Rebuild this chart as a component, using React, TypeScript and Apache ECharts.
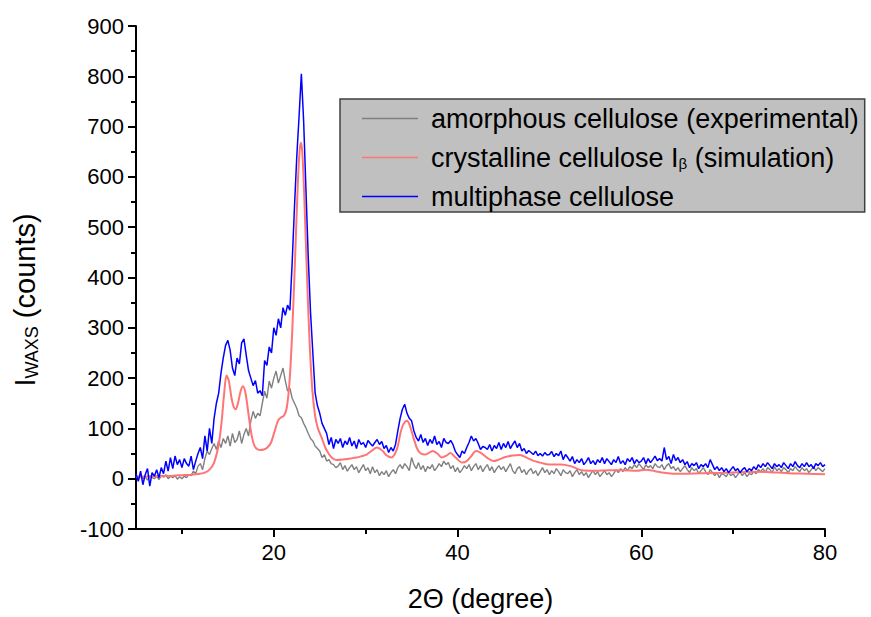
import React, { useEffect, useRef } from "react";
import * as echarts from "echarts";

// Sampling grid of the measured patterns (degrees 2Θ)
const THETA_START = 5;
const THETA_STEP = 0.25;

// amorphous cellulose (experimental), one value per 0.25° from 5° to 80°
const amorphousCounts = [
  5, -2, 8, 0, 4, -3, 6, 2, 0, 5, -2, 6, 3, 8, 0, 5, 2, 6, -1, 4,
  0, 5, 2, 8, 6, 15, 10, 25, 30, 18, 40, 55, 48, 60, 70, 58, 75, 62, 80, 70,
  85, 65, 90, 72, 78, 95, 70, 88, 100, 85, 115, 134, 120, 130, 125, 150, 174, 160, 194, 180,
  200, 214, 190, 205, 220, 195, 174, 180, 160, 150, 140, 125, 121, 110, 101, 90, 80, 75, 65, 60,
  55, 42, 48, 35, 38, 30, 28, 22, 25, 32, 18, 26, 15, 22, 28, 18, 24, 12, 20, 28,
  16, 22, 10, 24, 12, 18, 6, 14, 8, 16, 4, 12, 18, 10, 22, 28, 20, 30, 24, 16,
  42, 28, 20, 32, 18, 26, 14, 24, 20, 28, 16, 22, 30, 24, 35, 28, 32, 20, 26, 14,
  22, 12, 18, 26, 20, 28, 16, 24, 30, 18, 26, 14, 22, 28, 16, 24, 12, 20, 26, 18,
  24, 14, 22, 30, 16, 10, 20, 24, 12, 18, 8, 16, 20, 10, 16, 6, 14, 22, 12, 18,
  8, 16, 10, 20, 14, 6, 18, 12, 10, 16, 4, 12, 18, 8, 14, 6, 12, 2, 10, 16,
  8, 14, 4, 10, 16, 8, 12, 4, 10, 18, 12, 20, 14, 22, 16, 24, 20, 28, 22, 30,
  24, 18, 28, 22, 26, 20, 30, 24, 22, 28, 18, 26, 30, 20, 24, 16, 22, 14, 20, 26,
  18, 12, 22, 16, 20, 10, 16, 22, 14, 8, 18, 12, 6, 12, 2, 10, 8, 4, 12, 6,
  10, 2, 8, 14, 6, 12, 4, 10, 8, 14, 10, 18, 14, 20, 12, 22, 18, 12, 24, 16,
  20, 14, 22, 18, 12, 20, 16, 24, 18, 14, 22, 16, 20, 12, 18, 24, 16, 22, 18, 14,
  20,
];

// multiphase cellulose, one value per 0.25° from 5° to 80°
const multiphaseCounts = [
  10, -5, 15, -12, 8, 20, -15, 12, 5, 18, 2, 22, 10, 35, 15, 42, 20, 45, 28, 38,
  22, 40, 30, 25, 45, 18, 35, 50, 62, 40, 85, 55, 100, 70, 120, 150, 170, 210, 240, 265,
  275, 255, 220, 205, 240, 228, 270, 278, 245, 215, 200, 185, 195, 170, 175, 165, 235, 225, 262, 250,
  300, 285, 318, 300, 340, 325, 345, 335, 430, 540, 640, 720, 805, 710, 575, 440, 330, 250, 170, 145,
  130, 110, 100, 90, 68, 82, 60, 78, 70, 80, 62, 75, 68, 82, 65, 75, 60, 78, 68, 72,
  62, 76, 70, 65, 72, 78, 68, 74, 60, 66, 52, 62, 55, 68, 95, 120, 138, 148, 130, 120,
  115, 95, 82, 75, 88, 72, 80, 66, 78, 70, 85, 68, 74, 62, 80, 72, 70, 76, 68, 55,
  48, 42, 55, 50, 62, 72, 85, 75, 80, 70, 58, 64, 62, 58, 68, 55, 66, 60, 72, 58,
  70, 62, 74, 60, 68, 75, 62, 70, 55, 60, 50, 56, 52, 48, 55, 46, 50, 45, 52, 47,
  48, 54, 44, 50, 46, 55, 38, 48, 42, 35, 44, 30, 38, 32, 40, 28, 34, 42, 30, 36,
  28, 38, 32, 42, 30, 40, 34, 28, 38, 32, 44, 30, 36, 28, 40, 34, 42, 30, 38, 32,
  35, 42, 30, 40, 32, 38, 45, 36, 40, 35, 62, 38, 44, 30, 48, 36, 42, 32, 38, 28,
  34, 22, 30, 26, 32, 20, 28, 24, 30, 22, 38, 28, 18, 24, 16, 22, 14, 20, 12, 18,
  24, 16, 20, 12, 18, 22, 14, 20, 16, 24, 18, 28, 22, 30, 24, 32, 26, 20, 30, 24,
  28, 22, 32, 26, 20, 30, 24, 34, 26, 22, 30, 24, 32, 24, 28, 20, 30, 26, 32, 24,
  28,
];

// crystalline cellulose Iβ (simulation): smooth curve, non-uniform sampling
const crystallineTheta = [
  5, 7, 9, 10, 11, 12, 12.5, 13, 13.5, 14, 14.3, 14.6, 14.85, 15.1, 15.4, 15.65, 15.85, 16.1, 16.4, 16.65,
  16.9, 17.2, 17.5, 17.8, 18.1, 18.5, 18.9, 19.3, 19.7, 20.1, 20.45, 20.8, 21.1, 21.4, 21.7, 22.0, 22.3, 22.6, 22.8, 22.95,
  23.1, 23.3, 23.6, 23.9, 24.2, 24.5, 24.8, 25.2, 25.6, 25.9, 26.3, 26.8, 27.5, 28.3, 29.0, 29.6, 30.1, 30.7, 31.2, 31.8,
  32.3, 32.8, 33.2, 33.5, 33.8, 34.1, 34.5, 34.8, 35.2, 35.6, 36.0, 36.5, 37.3, 37.8, 38.3, 38.8, 39.2, 39.8, 40.5, 41.0,
  41.5, 42.0, 42.5, 43.2, 43.9, 44.5, 45.2, 46.0, 46.8, 47.5, 48.2, 49.0, 50.0, 51.2, 52.3, 53.0, 53.5, 55.0, 56.5, 58.0,
  59.5, 60.5, 61.5, 62.5, 63.5, 65.0, 67.0, 69.0, 70.8, 72.5, 74.0, 76.0, 78.0, 80,
];
const crystallineCounts = [
  4, 5, 6, 7, 8, 10, 12, 18, 32, 68, 110, 170, 205, 195, 160, 142, 138, 150, 175, 184,
  172, 135, 95, 70, 60, 57, 58, 62, 72, 95, 115, 122, 125, 140, 190, 290, 430, 580, 650, 668,
  650, 570, 410, 270, 175, 125, 100, 82, 62, 52, 42, 37, 38, 40, 42, 45, 48, 56, 62, 56,
  46, 42, 50, 65, 92, 108, 115, 106, 82, 60, 50, 48, 55, 50, 42, 46, 51, 42, 32, 35,
  45, 55, 52, 42, 35, 38, 43, 46, 47, 42, 36, 32, 28, 28, 25, 20, 17, 16, 17, 17,
  16, 18, 15, 12, 10, 10, 11, 12, 13, 14, 13, 11, 10, 9,
];

const seriesNames = [
  "amorphous cellulose (experimental)",
  "crystalline cellulose Iβ (simulation)",
  "multiphase cellulose",
];

const xMajorTicks = [20, 40, 60, 80];
const xMinorTicks = [10, 30, 50, 70];

const FONT = "'Liberation Sans', Arial, sans-serif";

export default function App() {
  const ref = useRef<HTMLDivElement>(null);

  useEffect(() => {
    if (!ref.current) return;
    const chart = echarts.init(ref.current, undefined, { renderer: "svg" });

    const grid = (vals: number[]) =>
      vals.map((v, i) => [THETA_START + i * THETA_STEP, v]);
    const crystalline = crystallineTheta.map((t, i) => [t, crystallineCounts[i]]);

    const legendRich = {
      sub: { fontSize: 15, fontFamily: FONT, color: "#000", verticalAlign: "bottom", lineHeight: 14 },
    };

    chart.setOption({
      animation: false,
      backgroundColor: "#ffffff",
      grid: { left: 136, width: 689, top: 26, height: 507, containLabel: false },
      xAxis: [
        {
          type: "value",
          min: 5,
          max: 80,
          position: "bottom",
          name: "2Θ (degree)",
          nameLocation: "middle",
          nameGap: 56,
          nameTextStyle: { fontSize: 27, color: "#000", fontFamily: FONT },
          axisLine: { show: true, onZero: false, lineStyle: { color: "#000", width: 2 } },
          axisTick: { show: true, customValues: xMajorTicks, length: 8, lineStyle: { color: "#000", width: 2 } },
          axisLabel: { show: true, customValues: xMajorTicks, fontSize: 22, color: "#000", fontFamily: FONT, margin: 12 },
          splitLine: { show: false },
        },
        {
          type: "value",
          min: 5,
          max: 80,
          position: "bottom",
          offset: 0,
          axisLine: { show: false, onZero: false },
          axisTick: { show: true, customValues: xMinorTicks, length: 5, lineStyle: { color: "#000", width: 2 } },
          axisLabel: { show: false },
          splitLine: { show: false },
        },
      ],
      yAxis: {
        type: "value",
        min: -100,
        max: 900,
        interval: 100,
        axisLine: { show: true, onZero: false, lineStyle: { color: "#000", width: 2 } },
        axisTick: { show: true, length: 8, lineStyle: { color: "#000", width: 2 } },
        minorTick: { show: true, splitNumber: 2, length: 5, lineStyle: { color: "#000", width: 2 } },
        axisLabel: { fontSize: 22, color: "#000", fontFamily: FONT, margin: 12 },
        splitLine: { show: false },
        minorSplitLine: { show: false },
      },
      legend: {
        orient: "vertical",
        left: 340,
        top: 99,
        padding: [6, 6, 2, 22],
        itemGap: 12,
        itemWidth: 56,
        itemHeight: 1.5,
        backgroundColor: "#c0c0c0",
        borderColor: "#404040",
        borderWidth: 1.5,
        borderRadius: 0,
        selectedMode: false,
        data: seriesNames.map((n) => ({ name: n, icon: "rect" })),
        formatter: (name: string) =>
          name === seriesNames[1] ? "crystalline cellulose I{sub|β} (simulation)" : name,
        textStyle: {
          fontSize: 27,
          color: "#000",
          fontFamily: FONT,
          lineHeight: 26,
          padding: [0, 0, 0, 8],
          rich: legendRich,
        },
      },
      graphic: [
        {
          type: "text",
          x: 25,
          y: 300,
          rotation: Math.PI / 2,
          style: {
            text: "{a|I}{b|WAXS}{a| (counts)}",
            align: "center",
            verticalAlign: "middle",
            fill: "#000",
            rich: {
              a: { fontSize: 29, fontFamily: FONT, color: "#000", lineHeight: 32 },
              b: { fontSize: 18, fontFamily: FONT, color: "#000", verticalAlign: "bottom", lineHeight: 16 },
            },
          },
        },
      ],
      series: [
        {
          name: seriesNames[0],
          type: "line",
          data: grid(amorphousCounts),
          symbol: "none",
          color: "#808080",
          lineStyle: { color: "#808080", width: 1.4 },
          z: 1,
        },
        {
          name: seriesNames[1],
          type: "line",
          data: crystalline,
          symbol: "none",
          smooth: 0.3,
          color: "#ff7575",
          lineStyle: { color: "#ff7575", width: 2 },
          z: 2,
        },
        {
          name: seriesNames[2],
          type: "line",
          data: grid(multiphaseCounts),
          symbol: "none",
          color: "#0000ff",
          lineStyle: { color: "#0000ff", width: 1.5 },
          z: 3,
        },
      ],
    });

    return () => chart.dispose();
  }, []);

  return (
    <div
      ref={ref}
      style={{ position: "fixed", left: 0, top: 0, width: 871, height: 617, background: "#fff" }}
    />
  );
}
